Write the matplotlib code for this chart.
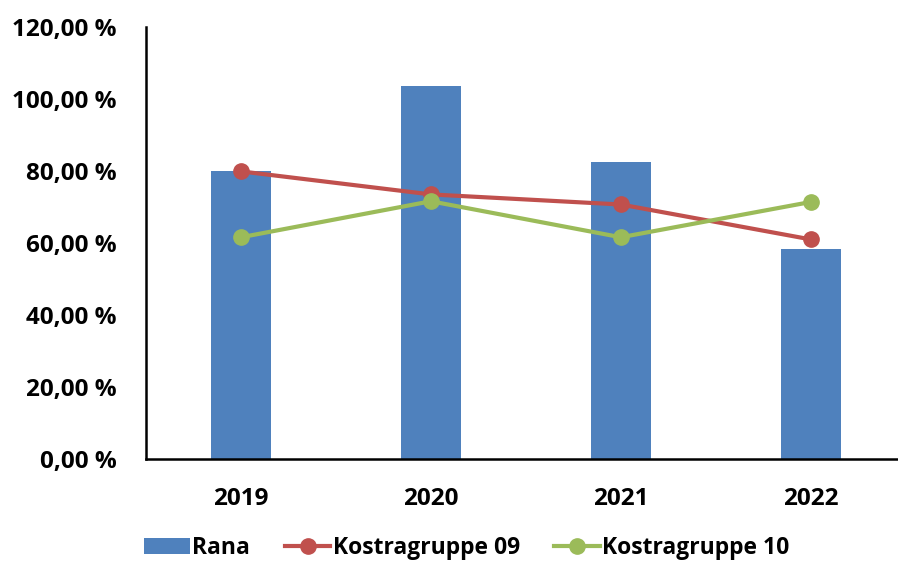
import numpy as np
import matplotlib.pyplot as plt
from matplotlib.ticker import FuncFormatter

years = ['2019', '2020', '2021', '2022']
rana = [80.0, 103.6, 82.4, 58.3]
kostra09 = [79.9, 73.5, 70.7, 61.0]
kostra10 = [61.6, 71.6, 61.6, 71.4]

plt.rcParams['font.family'] = ['Open Sans', 'DejaVu Sans']
plt.rcParams['font.weight'] = 'bold'

fig = plt.figure(figsize=(8.98, 5.63), dpi=100)
ax = fig.add_axes([0.1626, 0.1847, 0.846, 0.7673])

x = np.arange(len(years))
bars = ax.bar(x, rana, width=0.315, color='#4F81BD', label='Rana', zorder=2)
l09, = ax.plot(x, kostra09, color='#C0504D', lw=3, marker='o', ms=11, label='Kostragruppe 09', zorder=3)
l10, = ax.plot(x, kostra10, color='#9BBB59', lw=3, marker='o', ms=11, label='Kostragruppe 10', zorder=4)

ax.set_xlim(-0.5, 3.5)
ax.set_ylim(0, 120)
ax.set_yticks(np.arange(0, 121, 20))
ax.yaxis.set_major_formatter(FuncFormatter(lambda v, p: f'{v:.2f}'.replace('.', ',') + ' %'))
ax.set_xticks(x)
ax.set_xticklabels(years)
ax.tick_params(axis='both', length=0, labelsize=17.5)
ax.tick_params(axis='x', pad=20)
ax.tick_params(axis='y', pad=21)
for lbl in ax.get_xticklabels() + ax.get_yticklabels():
    lbl.set_fontweight('bold')

for side in ['top', 'right']:
    ax.spines[side].set_visible(False)
for side in ['left', 'bottom']:
    ax.spines[side].set_linewidth(1.8)
    ax.spines[side].set_color('black')

fig.legend([bars, l09, l10], ['Rana', 'Kostragruppe 09', 'Kostragruppe 10'],
           loc='center', bbox_to_anchor=(0.52, 0.026), ncol=3, frameon=False,
           prop={'size': 16.5, 'weight': 'bold'}, handlelength=2.0, handletextpad=0.1,
           columnspacing=1.5)

fig.savefig('out.png', dpi=100)
